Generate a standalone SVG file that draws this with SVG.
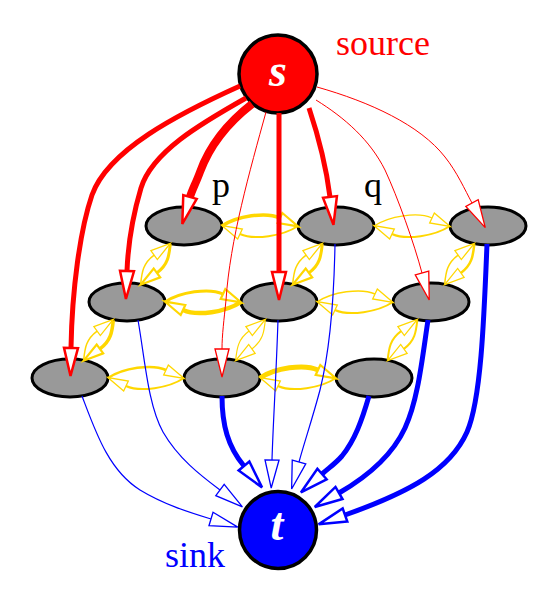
<svg xmlns="http://www.w3.org/2000/svg" width="553" height="590" viewBox="0 0 553 590">
<defs>
<style>
.n ellipse{fill:#999;stroke:#000;stroke-width:3}
.big{stroke:#000;stroke-width:3.5}
.lbl{font-family:"Liberation Serif","Times New Roman",serif;font-size:36px}
.st{font-family:"Liberation Serif","Times New Roman",serif;font-size:46px;font-weight:bold;font-style:italic;fill:#fff;text-anchor:middle}
.e{fill:none;stroke-linecap:butt}
.r{stroke:#f00}
.b{stroke:#00f}
.y{stroke:#ffd700}
.rt{marker-end:url(#mr)}
.rT{marker-end:url(#mR)}
.bt{marker-end:url(#mb)}
.bT{marker-end:url(#mB)}
.yt{marker-end:url(#my)}
.yT{marker-end:url(#mY)}
</style>
<marker id="mr" markerUnits="userSpaceOnUse" orient="auto" refX="0" refY="0" markerWidth="30" markerHeight="16" style="overflow:visible"><path d="M0,-7 L28,0 L0,7 Z" fill="#fff" stroke="#f00" stroke-width="1.3"/></marker>
<marker id="mR" markerUnits="userSpaceOnUse" orient="auto" refX="0" refY="0" markerWidth="30" markerHeight="16" style="overflow:visible"><path d="M0,-7 L28,0 L0,7 Z" fill="#fff" stroke="#f00" stroke-width="2.5"/></marker>
<marker id="mb" markerUnits="userSpaceOnUse" orient="auto" refX="0" refY="0" markerWidth="30" markerHeight="16" style="overflow:visible"><path d="M0,-7 L28,0 L0,7 Z" fill="#fff" stroke="#00f" stroke-width="1.3"/></marker>
<marker id="mB" markerUnits="userSpaceOnUse" orient="auto" refX="0" refY="0" markerWidth="30" markerHeight="16" style="overflow:visible"><path d="M0,-7 L28,0 L0,7 Z" fill="#fff" stroke="#00f" stroke-width="2.5"/></marker>
<marker id="my" markerUnits="userSpaceOnUse" orient="auto" refX="0" refY="0" markerWidth="22" markerHeight="12" style="overflow:visible"><path d="M0,-5.5 L20,0 L0,5.5 Z" fill="#fff" stroke="#ffd700" stroke-width="1.3"/></marker>
<marker id="mY" markerUnits="userSpaceOnUse" orient="auto" refX="0" refY="0" markerWidth="22" markerHeight="12" style="overflow:visible"><path d="M0,-5.5 L20,0 L0,5.5 Z" fill="#fff" stroke="#ffd700" stroke-width="2.2"/></marker>
</defs>
<rect width="553" height="590" fill="#fff"/>

<g id="s">
<circle class="big" cx="278" cy="74" r="39" fill="#f00"/>
<text class="st" x="278" y="86">s</text>
<text class="lbl" x="336" y="55" fill="#f00">source</text>
</g>
<g id="t">
<circle class="big" cx="278" cy="530" r="38.5" fill="#00f"/>
<text class="st" x="277" y="540">t</text>
<text class="lbl" x="165" y="567" fill="#00f">sink</text>
</g>
<g id="p" class="n"><ellipse cx="184" cy="226" rx="38" ry="19"/><text class="lbl" x="212" y="197" font-size="34" fill="#000">p</text></g>
<g id="q" class="n"><ellipse cx="336" cy="226" rx="38" ry="19"/><text class="lbl" x="364" y="197" font-size="34" fill="#000">q</text></g>
<g id="c" class="n"><ellipse cx="488" cy="226" rx="38" ry="19"/></g>
<g id="d" class="n"><ellipse cx="127" cy="302" rx="38" ry="19"/></g>
<g id="e" class="n"><ellipse cx="279" cy="302" rx="38" ry="19"/></g>
<g id="f" class="n"><ellipse cx="431" cy="302" rx="38" ry="19"/></g>
<g id="g" class="n"><ellipse cx="70" cy="378" rx="38" ry="19"/></g>
<g id="h" class="n"><ellipse cx="222" cy="378" rx="38" ry="19"/></g>
<g id="i" class="n"><ellipse cx="374" cy="378" rx="38" ry="19"/></g>

<g id="connectors" class="e">
<!-- yellow horizontal -->
<path class="y yT" stroke-width="3.5" transform="translate(222,226)" d="M0,0 C15,-10 44,-14.5 58,-8"/>
<path class="y yt" stroke-width="2" transform="translate(298,226) rotate(180)" d="M0,0 C15,-10 44,-14.5 58,-8"/>
<path class="y yt" stroke-width="1.3" transform="translate(374,226)" d="M0,0 C15,-10 44,-14.5 58,-8"/>
<path class="y yt" stroke-width="2" transform="translate(450,226) rotate(180)" d="M0,0 C15,-10 44,-14.5 58,-8"/>
<path class="y yT" stroke-width="3" transform="translate(165,302)" d="M0,0 C15,-10 44,-14.5 58,-8"/>
<path class="y yT" stroke-width="4.5" transform="translate(241,302) rotate(180)" d="M0,0 C15,-10 44,-14.5 58,-8"/>
<path class="y yt" stroke-width="1.5" transform="translate(317,302)" d="M0,0 C15,-10 44,-14.5 58,-8"/>
<path class="y yt" stroke-width="2" transform="translate(393,302) rotate(180)" d="M0,0 C15,-10 44,-14.5 58,-8"/>
<path class="y yt" stroke-width="2.5" transform="translate(108,378)" d="M0,0 C15,-10 44,-14.5 58,-8"/>
<path class="y yt" stroke-width="2" transform="translate(184,378) rotate(180)" d="M0,0 C15,-10 44,-14.5 58,-8"/>
<path class="y yT" stroke-width="5" transform="translate(260,378)" d="M0,0 C15,-10 44,-14.5 58,-8"/>
<path class="y yt" stroke-width="2" transform="translate(336,378) rotate(180)" d="M0,0 C15,-10 44,-14.5 58,-8"/>
<!-- yellow diagonal -->
<path class="y yt" stroke-width="1.5" transform="translate(140.7,283.8) rotate(-53.13)" d="M0,0 C10,-6 18,-10.5 31,-6.5"/>
<path class="y yT" stroke-width="3" transform="translate(170.3,244.2) rotate(126.87)" d="M0,0 C10,-6 18,-10.5 31,-6.5"/>
<path class="y yt" stroke-width="1.5" transform="translate(292.7,283.8) rotate(-53.13)" d="M0,0 C10,-6 18,-10.5 31,-6.5"/>
<path class="y yT" stroke-width="3" transform="translate(322.3,244.2) rotate(126.87)" d="M0,0 C10,-6 18,-10.5 31,-6.5"/>
<path class="y yt" stroke-width="1.5" transform="translate(444.7,283.8) rotate(-53.13)" d="M0,0 C10,-6 18,-10.5 31,-6.5"/>
<path class="y yt" stroke-width="2.5" transform="translate(474.3,244.2) rotate(126.87)" d="M0,0 C10,-6 18,-10.5 31,-6.5"/>
<path class="y yt" stroke-width="1.5" transform="translate(83.7,359.8) rotate(-53.13)" d="M0,0 C10,-6 18,-10.5 31,-6.5"/>
<path class="y yT" stroke-width="3.5" transform="translate(113.3,320.2) rotate(126.87)" d="M0,0 C10,-6 18,-10.5 31,-6.5"/>
<path class="y yt" stroke-width="1.2" transform="translate(235.7,359.8) rotate(-53.13)" d="M0,0 C10,-6 18,-10.5 31,-6.5"/>
<path class="y yt" stroke-width="1.2" transform="translate(265.3,320.2) rotate(126.87)" d="M0,0 C10,-6 18,-10.5 31,-6.5"/>
<path class="y yt" stroke-width="2" transform="translate(387.7,359.8) rotate(-53.13)" d="M0,0 C10,-6 18,-10.5 31,-6.5"/>
<path class="y yt" stroke-width="2" transform="translate(417.3,320.2) rotate(126.87)" d="M0,0 C10,-6 18,-10.5 31,-6.5"/>
<!-- blue to sink -->
<path class="b bt" stroke-width="1.2" d="M82,396 C95,430 108,470 140,490 C163,504 188,512 211,519"/>
<path class="b bt" stroke-width="1.2" d="M138,320 C145,360 148,405 163,432 C178,458 200,475 220,490"/>
<path class="b bT" stroke-width="5" d="M222,396 C222,425 228,447 244,466"/>
<path class="b bt" stroke-width="1.2" d="M278,320 C276,380 273,425 272,460"/>
<path class="b bt" stroke-width="1.2" d="M335,244 C334,300 330,350 320,390 C312,420 305,440 299,462"/>
<path class="b bT" stroke-width="5" d="M369,396 C362,420 355,440 342,456 C336,463 330,467 322,474"/>
<path class="b bT" stroke-width="5" d="M428,320 C422,360 418,400 405,428 C392,456 365,478 339,493"/>
<path class="b bT" stroke-width="5" d="M487,244 C484,320 481,400 467,432 C450,470 410,492 345,515"/>
<!-- red from source -->
<path class="r rT" stroke-width="5" d="M240,86 C178,114 108,150 92,195 C80,230 72,290 71,348"/>
<path class="r rT" stroke-width="5" d="M246,98 C200,124 152,152 141,188 C133,215 128,245 127,271"/>
<path class="r rT" stroke-width="8" d="M252,104 C225,125 208,150 200,172 C196,183 192,190 190,197"/>
<path class="r rT" stroke-width="5" d="M279,113 L279,272"/>
<path class="r rT" stroke-width="5" d="M309,108 C318,135 326,165 330,197"/>
<path class="r rt" stroke-width="1" d="M266,112 C250,170 230,240 226,300 C224,320 222,335 222,349"/>
<path class="r rt" stroke-width="1" d="M316,100 C345,118 370,140 385,170 C398,198 414,243 422,273"/>
<path class="r rt" stroke-width="1" d="M317,87 C370,102 420,125 445,157 C457,172 465,190 472,203"/>
</g>
</svg>
